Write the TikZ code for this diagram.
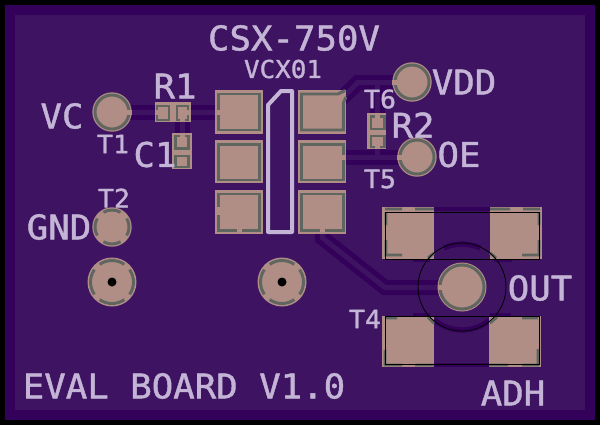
\documentclass[tikz,border=0pt]{standalone}
\usepackage{fontspec}
\setmainfont{DejaVu Sans Mono}[FakeStretch=1.05,RawFeature={embolden=1.3}]
\definecolor{boardc}{HTML}{3E1462}
\definecolor{rimc}{HTML}{33005A}
\definecolor{maskc}{HTML}{B08D85}
\definecolor{grayc}{HTML}{5F6660}
\definecolor{silkc}{HTML}{C4B4D6}
\tikzset{
  tracedark/.style={draw=rimc,line width=11.25pt,line join=miter},
  tracemid/.style={draw=boardc,line width=3.75pt,line join=miter},
  maskfill/.style={fill=maskc,draw=none},
  grayline/.style={draw=grayc,line width=2.2pt},
  notch/.style={draw=maskc,line width=3.75pt},
  silkbig/.style={text=silkc,inner sep=0pt,font=\fontsize{25.5}{26}\selectfont},
  silksmall/.style={text=silkc,inner sep=0pt,font=\fontsize{19}{20}\selectfont},
  outline/.style={draw=silkc,line width=3pt,line join=round},
  thinblack/.style={draw=black,line width=0.6pt}
}
\newcommand{\segarcs}[4]{% cx cy r half-span
  \foreach \a in {0,90,180,270}{
    \draw[grayline] ([shift={(#1,#2)}]\a-#4:#3) arc[start angle=\a-#4,end angle=\a+#4,radius=#3];
  }}
\begin{document}
\begin{tikzpicture}[x=0.75pt,y=-0.75pt]
\useasboundingbox (0,0) rectangle (600,425);
\fill[black] (0,0) rectangle (600,425);
\fill[rimc] (5,5) rectangle (595,420);
\fill[boardc] (15,15) rectangle (585,410);
% traces
\coordinate (t1c) at (112,112.5);
\coordinate (u1a) at (235,112.5);
\coordinate (c1t) at (182.5,140);
\coordinate (r1r) at (182.5,112.5);
\coordinate (vddc) at (412,82.5);
\coordinate (vddb) at (358,82.5);
\coordinate (u1f) at (335,105);
\coordinate (r2t) at (377.5,120);
\coordinate (r2m) at (377.5,82.5);
\coordinate (oec) at (417,157.5);
\coordinate (u1e) at (330,157.5);
\coordinate (r2b) at (377.5,145);
\coordinate (r2n) at (377.5,157.5);
\coordinate (u1d) at (322.5,225);
\coordinate (u1d2) at (322.5,238);
\coordinate (bend) at (385,287.5);
\coordinate (outc) at (462,287.5);
\foreach \s in {tracedark,tracemid}{
  \draw[\s] (t1c) -- (u1a);
  \draw[\s] (r1r) -- (c1t);
  \draw[\s] (r2m) -- (r2t);
  \draw[\s] (r2b) -- (r2n);
  \draw[\s] (vddc) -- (vddb) -- (u1f);
  \draw[\s] (oec) -- (u1e);
  \draw[\s] (u1d) -- (u1d2) -- (bend) -- (outc);
}
% coax ground traces
\fill[rimc] (430,207) rectangle (494,211);
\fill[rimc] (430,363) rectangle (494,367);
\fill[rimc] (413,258) rectangle (430,262);
\fill[rimc] (494,258) rectangle (512,262);
\fill[rimc] (413,313) rectangle (430,317);
\fill[rimc] (490,313) rectangle (511,317);
\draw[rimc,line width=4pt] ([shift={(462,287)}]245:43) arc[start angle=245,end angle=295,radius=43];
\draw[rimc,line width=4pt] ([shift={(462,287)}]50:43) arc[start angle=50,end angle=130,radius=43];
% masks
\foreach \x in {215,298}{
  \fill[maskfill] (\x,90) rectangle +(48,43.7);
  \fill[maskfill] (\x,140) rectangle +(48,43.3);
  \fill[maskfill] (\x,190) rectangle +(48,44);
}
\fill[maskfill] (155,102) rectangle (191,122);
\fill[maskfill] (172,133) rectangle (192,169);
\fill[maskfill] (367,113) rectangle (386,149);
\fill[maskfill] (382,207) rectangle (434,259);
\fill[maskfill] (490,207) rectangle (542,259);
\fill[maskfill] (382,316) rectangle (434,367);
\fill[maskfill] (489,316) rectangle (541,367);
\foreach \x/\y/\r in {112/112/19.7,412/82/19.7,417/157/19.7,112/227/19.7,112/282/24.5,282/282/24.5,462/287/24.5}{
  \fill[maskfill] (\x,\y) circle (\r);
}
% gray outlines
\draw[grayline] (218.5,94) rectangle (259.5,130);
\draw[grayline] (218.5,144.5) rectangle (259.5,180);
\draw[grayline] (218.5,215) -- (218.5,230.5) -- (237,230.5);
\draw[grayline] (242,230.5) -- (259.5,230.5) -- (259.5,194) -- (218.5,194) -- (218.5,207);
\draw[grayline] (301.5,144.5) rectangle (343.3,180);
\draw[grayline] (301.5,194) rectangle (343.3,230.5);
\draw[grayline] (345,90.5) -- (338,94) -- (301.5,94) -- (301.5,130) -- (343.3,130) -- (343.3,103) -- (346,97);
\draw[grayline] (157,106) rectangle (169,120);
\draw[grayline] (177,106) rectangle (188,120);
\draw[grayline] (175.5,136) rectangle (188.5,148.5);
\draw[grayline] (175.5,156) rectangle (188.5,167);
\draw[grayline] (371,116.5) rectangle (384.5,129);
\draw[grayline] (371,136) rectangle (384.5,147);
\foreach \x/\y in {112/112,412/82,417/157}{\draw[grayline] (\x,\y) circle (17);}
\draw[grayline] (462,287) circle (22);
\segarcs{112}{227}{17}{30}
\segarcs{112}{282}{21.5}{35}
\segarcs{282}{282}{21.5}{35}
% notches
\draw[notch] (215,112.5) -- (222,112.5);
\draw[notch] (341,157.5) -- (346,157.5);
\draw[notch] (322.5,228) -- (322.5,234);
\draw[notch] (125,112.5) -- (131.7,112.5);
\draw[notch] (392.3,82.5) -- (398,82.5);
\draw[notch] (397.3,157.5) -- (403,157.5);
\draw[notch] (437.5,287.5) -- (443,287.5);
\draw[notch] (155,112.5) -- (159,112.5);
\draw[notch] (186,112.5) -- (191,112.5);
\draw[notch] (182.5,118) -- (182.5,122);
\draw[notch] (182.5,133) -- (182.5,138);
\draw[notch] (377.5,113) -- (377.5,118.5);
\draw[notch] (377.5,145) -- (377.5,149);
% coax pad gray fragments
\draw[grayline] (385,209) -- (402,209) (415,209) -- (434,209) (386,212) -- (386,225) (386,240) -- (386,255) -- (402,255) (428,258) -- (434,253);
\draw[grayline] (490,209) -- (510,209) (523,209) -- (540,209) (539,212) -- (539,225) (539,240) -- (539,255) -- (522,255) (490,253) -- (496,258);
\draw[grayline] (385,318) -- (397,318) (428,317) -- (434,323) (385,350) -- (385,365) -- (402,365) (415,365) -- (434,365);
\draw[grayline] (522,318) -- (538,318) (490,323) -- (497,317) (538,349) -- (538,365) -- (522,365) (489,365) -- (508,365);
% drills
\fill[black] (112,282) circle (4.5);
\fill[black] (282,282) circle (4.5);
% thin black outline
\draw[thinblack] (385,212) rectangle (539,259);
\draw[thinblack] (385,316) rectangle (539,364);
\draw[thinblack] (462,287) circle (44);
% IC outline
\draw[outline] (268,105) -- (281,91) -- (292,91) -- (292,232) -- (268,232) -- cycle;
% silk text
\node[silkbig] (csx) at (294,38) {CSX-750V};
\node[silkbig,font=\fontsize{18.5}{19}\selectfont] (vcx) at (283,69) {VCX01};
\node[silkbig] (vdd) at (464,82) {VDD};
\node[silkbig] (vc) at (62,116) {VC};
\node[silkbig] (r1) at (175,86) {R1};
\node[silksmall] (t1) at (113,144) {T1};
\node[silkbig] (c1) at (155,154.5) {C1};
\node[silksmall] (t2) at (114,198) {T2};
\node[silkbig] (gnd) at (59,227) {GND};
\node[silksmall] (t6) at (380,99) {T6};
\node[silkbig] (r2) at (413,125) {R2};
\node[silkbig] (oe) at (459,154.5) {OE};
\node[silksmall] (t5) at (380,179) {T5};
\node[silkbig] (out) at (540,288) {OUT};
\node[silksmall] (t4) at (365,319) {T4};
\node[silkbig] (eval) at (184,386) {EVAL BOARD V1.0};
\node[silkbig] (adh) at (513,393) {ADH};
\end{tikzpicture}
\end{document}
